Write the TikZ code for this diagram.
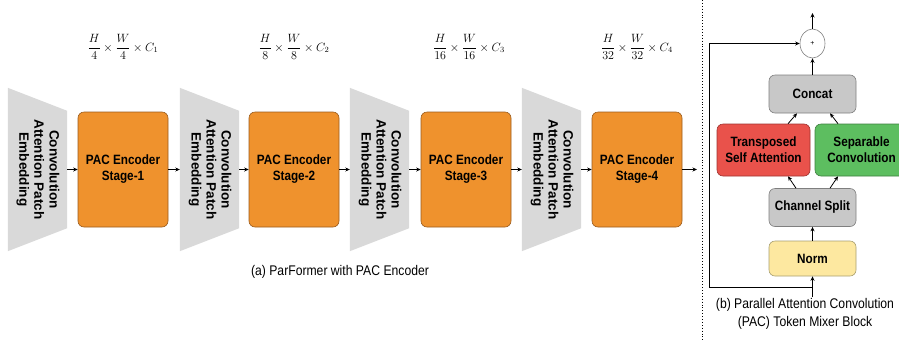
\documentclass[tikz,border=0pt]{standalone}
\usepackage{fontspec}
\usepackage{amsmath}
\setmainfont{Liberation Sans}
\newfontfamily\boxfont{Liberation Sans}[FakeStretch=0.87]
\newfontfamily\rotfont{Liberation Sans}
\usetikzlibrary{arrows.meta,backgrounds,shapes.geometric}
\definecolor{orangeF}{HTML}{EF922D}
\definecolor{orangeD}{HTML}{9A5B1C}
\definecolor{tzgray}{HTML}{D9D9D9}
\definecolor{boxgray}{HTML}{C8C8C8}
\definecolor{boxgrayD}{HTML}{7F7F7F}
\definecolor{redF}{HTML}{E9524B}
\definecolor{redD}{HTML}{9E3330}
\definecolor{greenF}{HTML}{5DBE60}
\definecolor{greenD}{HTML}{3E7F40}
\definecolor{yelF}{HTML}{FDE8A0}
\definecolor{yelD}{HTML}{A89F70}
\begin{document}
\begin{tikzpicture}[x=1pt,y=-1pt,
  arr/.style={-{Stealth[length=4.5pt,width=4pt]}, line width=0.8pt, black},
  stage/.style={draw=orangeD, line width=0.6pt, fill=orangeF, rounded corners=6pt,
    minimum width=90pt, minimum height=115pt, inner sep=0pt,
    font=\boxfont\bfseries\fontsize{13.5}{16}\selectfont, align=center},
  tz/.style={minimum width=59pt, minimum height=163pt, inner sep=0pt},
  pbox/.style={rounded corners=6pt, line width=0.6pt, inner sep=0pt, align=center,
    font=\boxfont\bfseries\fontsize{13.5}{16}\selectfont},
  gbox/.style={pbox, draw=boxgrayD, fill=boxgray, minimum width=87pt, minimum height=38pt},
  rbox/.style={pbox, draw=redD, fill=redF, minimum width=93pt, minimum height=52pt},
  grbox/.style={pbox, draw=greenD, fill=greenF, minimum width=93pt, minimum height=52pt},
  ybox/.style={pbox, draw=yelD, fill=yelF, minimum width=87pt, minimum height=35pt},
  dimlabel/.style={font=\fontsize{12}{14}\selectfont},
  captext/.style={font=\boxfont\fontsize{14}{18}\selectfont, align=center}
]
\useasboundingbox (0,0) rectangle (899,341);

% patch embeddings
\newcommand{\capemb}{\rotatebox{-90}{\rotfont\bfseries\fontsize{13.5}{15}\selectfont\begin{tabular}{@{}c@{}}Convolution\\Attention Patch\\Embedding\end{tabular}}}
\foreach \i/\x in {1/37.5,2/209.5,3/379.5,4/551.5}{
  \node[tz] (t\i) at (\x,169.5) {\capemb};
}
\begin{scope}[on background layer]
\foreach \i in {1,2,3,4}{
  \fill[tzgray] (t\i.north west) -- ([yshift=-23pt]t\i.north east) -- ([yshift=23pt]t\i.south east) -- (t\i.south west) -- cycle;
}
\end{scope}

% stages
\node[stage] (s1) at (123,169.5) {PAC Encoder\\Stage-1};
\node[stage] (s2) at (294,169.5) {PAC Encoder\\Stage-2};
\node[stage] (s3) at (466,169.5) {PAC Encoder\\Stage-3};
\node[stage] (s4) at (637,169.5) {PAC Encoder\\Stage-4};
\coordinate (out) at (697,169.5);

\draw[arr] (t1.east) -- (s1.west);
\draw[arr] (s1.east) -- (t2.west);
\draw[arr] (t2.east) -- (s2.west);
\draw[arr] (s2.east) -- (t3.west);
\draw[arr] (t3.east) -- (s3.west);
\draw[arr] (s3.east) -- (t4.west);
\draw[arr] (t4.east) -- (s4.west);
\draw[arr] (s4.east) -- (out);

% dims
\node[dimlabel] (d1) at (123,47) {$\dfrac{H}{4}\times\dfrac{W}{4}\times C_1$};
\node[dimlabel] (d2) at (294,47) {$\dfrac{H}{8}\times\dfrac{W}{8}\times C_2$};
\node[dimlabel] (d3) at (469,47) {$\dfrac{H}{16}\times\dfrac{W}{16}\times C_3$};
\node[dimlabel] (d4) at (637,47) {$\dfrac{H}{32}\times\dfrac{W}{32}\times C_4$};

\node[captext] (capa) at (340,272) {(a) ParFormer with PAC Encoder};

% separator
\coordinate (sepT) at (702,0);
\coordinate (sepB) at (702,341);
\draw[dotted, line width=0.9pt] (sepT) -- (sepB);

% PAC block
\node[ellipse, draw=boxgrayD, fill=white, line width=0.6pt, minimum width=25pt, minimum height=29pt, inner sep=0pt, font=\fontsize{7}{8}\selectfont] (plus) at (812.5,43.5) {+};
\coordinate (top) at (812.5,13);
\node[gbox] (concat) at (812.5,94) {Concat};
\node[rbox] (tsa) at (763.5,150) {Transposed\\Self Attention};
\node[grbox] (sepc) at (861.5,150) {Separable\\Convolution};
\node[gbox] (split) at (812.5,207.5) {Channel Split};
\node[ybox] (norm) at (812.5,258.5) {Norm};
\coordinate (in) at (812.5,297);
\coordinate (resR) at (812.5,287);
\coordinate (resL) at (709,287);

\draw[arr] (in) -- (norm.south);
\draw[arr] (resR) -- (resL) |- (plus.west);
\draw[arr] (norm.north) -- (split.south);
\draw[arr] ([xshift=-16.5pt]split.north) -- ([xshift=24.5pt]tsa.south);
\draw[arr] ([xshift=17.5pt]split.north) -- ([xshift=-23.5pt]sepc.south);
\draw[arr] ([xshift=24.5pt]tsa.north) -- ([xshift=-15.5pt]concat.south);
\draw[arr] ([xshift=-23.5pt]sepc.north) -- ([xshift=17.5pt]concat.south);
\draw[arr] (concat.north) -- (plus.south);
\draw[arr] (plus.north) -- (top);

\node[captext] (capb) at (805,314) {(b) Parallel Attention Convolution\\(PAC) Token Mixer Block};
\end{tikzpicture}
\end{document}
